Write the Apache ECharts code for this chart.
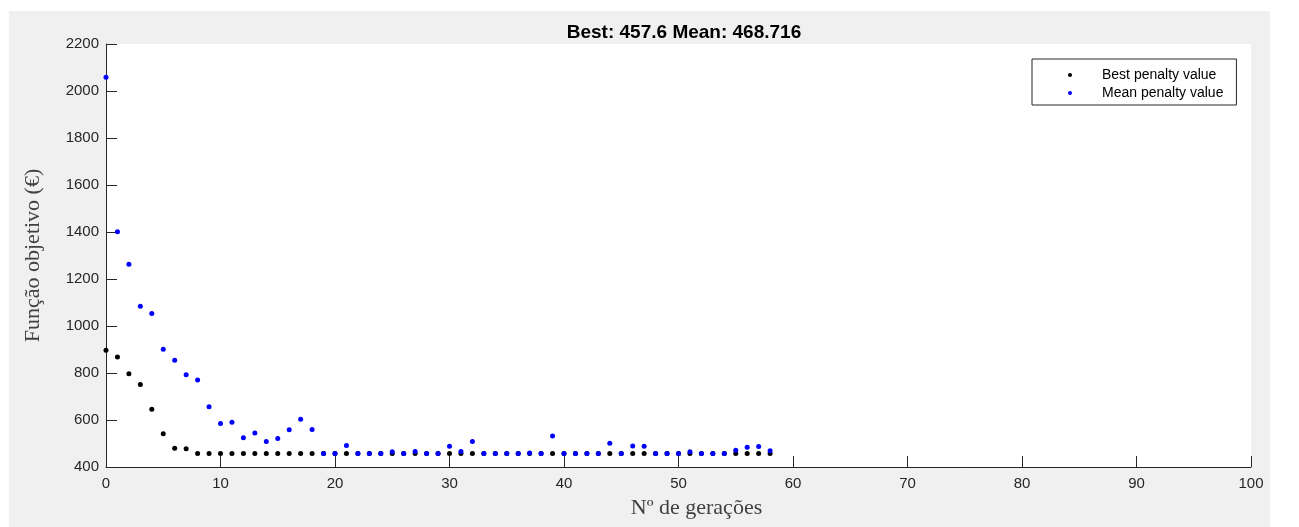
<!DOCTYPE html>
<html>
<head>
<meta charset="utf-8">
<script src="https://cdn.jsdelivr.net/npm/echarts@6/dist/echarts.min.js"></script>
<style>
  html, body { margin: 0; padding: 0; background: #fff; }
  #bg { position: absolute; left: 9px; top: 11px; width: 1261px; height: 516px; background: #f0f0f0; }
  #chart { position: absolute; left: 0; top: 0; width: 1299px; height: 527px; }
</style>
</head>
<body>
<div id="bg"></div>
<div id="chart"></div>
<script>
// generation index 0..58
const generations = [
  0, 1, 2, 3, 4, 5, 6, 7, 8, 9,
  10, 11, 12, 13, 14, 15, 16, 17, 18, 19,
  20, 21, 22, 23, 24, 25, 26, 27, 28, 29,
  30, 31, 32, 33, 34, 35, 36, 37, 38, 39,
  40, 41, 42, 43, 44, 45, 46, 47, 48, 49,
  50, 51, 52, 53, 54, 55, 56, 57, 58
];

const bestPenalty = [
  897, 868, 797, 751, 646, 542, 480, 478, 457.6, 457.6,
  457.6, 457.6, 457.6, 457.6, 457.6, 457.6, 457.6, 457.6, 457.6, 457.6,
  457.6, 457.6, 457.6, 457.6, 457.6, 457.6, 457.6, 457.6, 457.6, 457.6,
  457.6, 457.6, 457.6, 457.6, 457.6, 457.6, 457.6, 457.6, 457.6, 457.6,
  457.6, 457.6, 457.6, 457.6, 457.6, 457.6, 457.6, 457.6, 457.6, 457.6,
  457.6, 457.6, 457.6, 457.6, 457.6, 457.6, 457.6, 457.6, 457.6
];

const meanPenalty = [
  2058, 1401, 1263, 1084, 1053, 901, 854, 793, 770, 656,
  585, 590, 525, 545, 509, 521, 558, 603, 560, 457.6,
  457.6, 492, 457.6, 457.6, 457.6, 465, 457.6, 466, 457.6, 457.6,
  488, 466, 509, 457.6, 457.6, 457.6, 457.6, 460, 457.6, 532,
  457.6, 457.6, 457.6, 457.6, 501, 457.6, 489, 488, 457.6, 457.6,
  457.6, 465, 457.6, 457.6, 457.6, 471, 484, 487, 468.716
];

const axisColor = "#262626";
const sansFont = "'Liberation Sans', Arial, sans-serif";
const serifFont = "'Liberation Serif', 'Times New Roman', serif";

const chart = echarts.init(document.getElementById("chart"));

const option = {
  backgroundColor: "transparent",
  animation: false,
  title: {
    text: "Best: 457.6 Mean: 468.716",
    left: 679,
    textAlign: "center",
    top: 18,
    textStyle: { fontFamily: sansFont, fontSize: 19, fontWeight: "bold", color: "#000" }
  },
  legend: {
    orient: "vertical",
    left: 1032,
    top: 59,
    padding: [9, 13, 5, 36],
    itemGap: 4,
    itemWidth: 4,
    itemHeight: 4,
    icon: "circle",
    backgroundColor: "#fff",
    borderColor: axisColor,
    borderWidth: 1,
    borderRadius: 0,
    textStyle: { fontFamily: sansFont, fontSize: 14, lineHeight: 14, color: "#000", padding: [0, 0, 0, 25] },
    data: ["Best penalty value", "Mean penalty value"]
  },
  grid: {
    left: 106,
    right: 48,
    top: 44,
    bottom: 60,
    show: true,
    backgroundColor: "#fff",
    borderWidth: 0
  },
  xAxis: {
    type: "value",
    min: 0,
    max: 100,
    interval: 10,
    name: "Nº de gerações",
    nameLocation: "middle",
    nameGap: 30,
    nameTextStyle: { fontFamily: serifFont, fontSize: 22, color: "#404040", padding: [0, 0, 0, 36] },
    axisLine: { show: true, lineStyle: { color: axisColor, width: 1 } },
    axisTick: { show: true, inside: true, length: 11, lineStyle: { color: axisColor } },
    axisLabel: { fontFamily: sansFont, fontSize: 15, color: axisColor, margin: 9 },
    splitLine: { show: false }
  },
  yAxis: {
    type: "value",
    min: 400,
    max: 2200,
    interval: 200,
    name: "Função objetivo (€)",
    nameLocation: "middle",
    nameGap: 62,
    nameTextStyle: { fontFamily: serifFont, fontSize: 22, color: "#404040" },
    axisLine: { show: true, lineStyle: { color: axisColor, width: 1 } },
    axisTick: { show: true, inside: true, length: 11, lineStyle: { color: axisColor } },
    axisLabel: {
      fontFamily: sansFont, fontSize: 15, color: axisColor, margin: 7,
      formatter: (v) => String(v)
    },
    splitLine: { show: false }
  },
  series: [
    {
      name: "Best penalty value",
      type: "scatter",
      symbol: "circle",
      symbolSize: 5,
      itemStyle: { color: "#000", opacity: 1 },
      data: generations.map((g, i) => [g, bestPenalty[i]]),
      z: 2
    },
    {
      name: "Mean penalty value",
      type: "scatter",
      symbol: "circle",
      symbolSize: 5,
      itemStyle: { color: "#0000ff", opacity: 1 },
      data: generations.map((g, i) => [g, meanPenalty[i]]),
      z: 3
    }
  ]
};

chart.setOption(option);
</script>
</body>
</html>
